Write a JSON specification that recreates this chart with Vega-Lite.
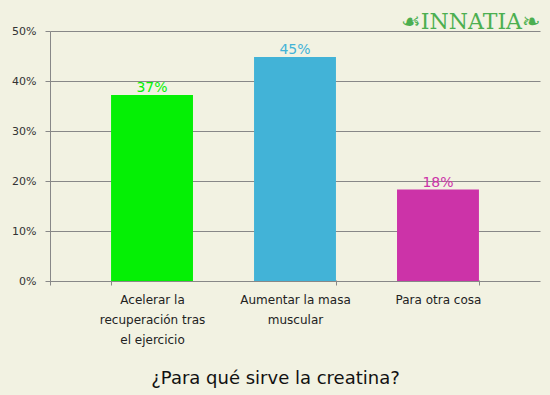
{
  "$schema": "https://vega.github.io/schema/vega-lite/v6.json",
  "width": 490,
  "height": 254,
  "autosize": {"type": "none"},
  "padding": {"left": 50, "top": 31, "right": 10, "bottom": 110},
  "background": "#F2F2E2",
  "config": {"view": {"stroke": null}, "font": "DejaVu Sans"},
  "title": {"text": "☙INNATIA❧", "anchor": "end", "orient": "top", "color": "#4CAF50", "font": "DejaVu Serif", "fontSize": 22, "fontWeight": "normal", "offset": -9, "dx": 0},
  "data": {"values": [
    {"cat": "Acelerar la|recuperación tras|el ejercicio", "pct": 0.372},
    {"cat": "Aumentar la masa|muscular", "pct": 0.448},
    {"cat": "Para otra cosa", "pct": 0.183}
  ]},
  "encoding": {
    "x": {"field": "cat", "type": "nominal", "sort": null,
      "scale": {"paddingInner": 0.427, "paddingOuter": 0.427},
      "axis": {
        "labelExpr": "split(datum.label, '|')",
        "labelAngle": 0, "labelFontSize": 12, "labelColor": "#222", "labelLineHeight": 20, "labelPadding": 14, "labelBaseline": "top",
        "domain": false, "tickBand": "extent", "tickSize": -5, "tickColor": "#888", "tickWidth": 1,
        "tickOpacity": {"condition": {"test": "datum.value === 'Acelerar la|recuperación tras|el ejercicio'", "value": 0}, "value": 1},
        "title": "¿Para qué sirve la creatina?", "titleFontSize": 18, "titleFontWeight": "normal", "titleColor": "#111",
        "titleX": 225, "titleY": 98, "titleBaseline": "alphabetic", "titleAlign": "center"
      }
    },
    "y": {"field": "pct", "type": "quantitative",
      "scale": {"domain": [-0.008, 0.5], "nice": false, "zero": false},
      "axis": {"values": [0, 0.1, 0.2, 0.3, 0.4, 0.5], "format": ".0%", "grid": true, "gridColor": "#888", "gridOpacity": 1,
        "domainColor": "#888", "tickColor": "#888", "tickSize": 5, "labelFontSize": 11, "labelColor": "#333", "labelPadding": 9, "title": null}
    },
    "color": {"field": "cat", "type": "nominal", "legend": null,
      "scale": {"domain": ["Acelerar la|recuperación tras|el ejercicio", "Aumentar la masa|muscular", "Para otra cosa"], "range": ["#05F005", "#42B3D7", "#CC33A8"]}}
  },
  "layer": [
    {"mark": {"type": "bar"}, "encoding": {"y2": {"datum": 0}}},
    {"mark": {"type": "text", "fontSize": 14, "baseline": "alphabetic", "dy": -3}, "encoding": {"text": {"field": "pct", "type": "quantitative", "format": ".0%"}}}
  ]
}
